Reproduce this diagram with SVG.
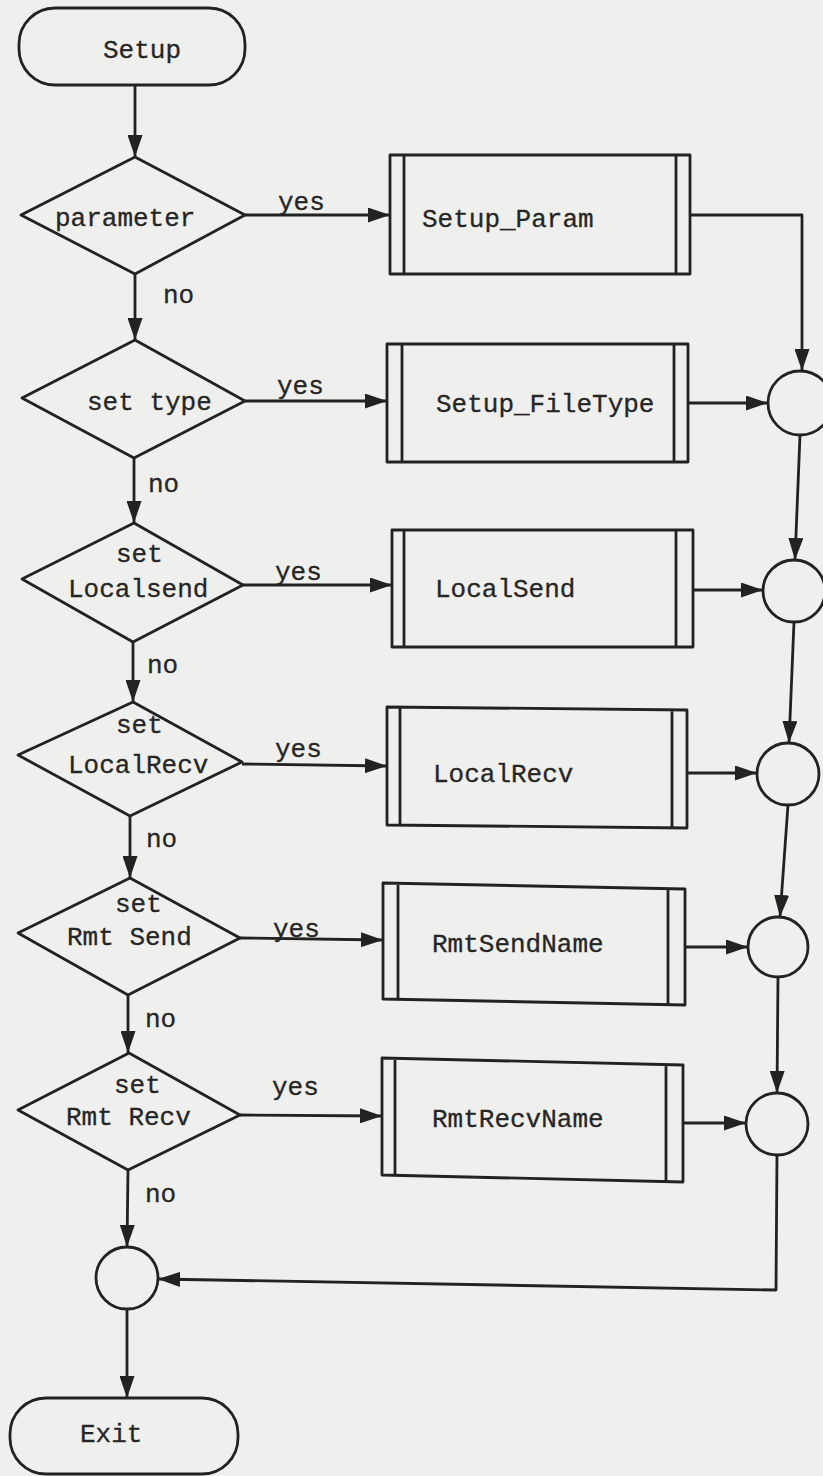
<svg xmlns="http://www.w3.org/2000/svg" width="823" height="1476" viewBox="0 0 823 1476">
<style>
.s{fill:none;stroke:#222;stroke-width:2.8;stroke-linejoin:round}
.t{font-family:"Liberation Mono","DejaVu Sans Mono",monospace;font-size:26px;fill:#262626;stroke:#262626;stroke-width:0.3}
.c{fill:none;stroke:#222;stroke-width:2.8}
</style>
<defs>
<marker id="ah" markerUnits="userSpaceOnUse" markerWidth="22" markerHeight="15" refX="22" refY="7.5" orient="auto">
<path d="M0,0 L22,7.5 L0,15 z" fill="#222"/>
</marker>
</defs>
<rect width="823" height="1476" fill="#efefed"/>

<g id="setup"><rect class="s" x="19" y="8" width="226" height="77" rx="36"/><text class="t" x="103" y="58">Setup</text></g>

<g id="d-parameter"><path class="s" d="M135,157 L245,215 L135,274 L21,215 Z"/><text class="t" x="55" y="226">parameter</text></g>
<g id="d-settype"><path class="s" d="M135,340 L245,401 L134,458 L22,398 Z"/><text class="t" x="87" y="410">set type</text></g>
<g id="d-localsend"><path class="s" d="M134,523 L243,585 L133,642 L22,579 Z"/><text class="t" x="116" y="562">set</text><text class="t" x="68" y="597">Localsend</text></g>
<g id="d-localrecv"><path class="s" d="M133,702 L242,762 L130,816 L18,755 Z"/><text class="t" x="116" y="733">set</text><text class="t" x="68" y="773">LocalRecv</text></g>
<g id="d-rmtsend"><path class="s" d="M130,878 L240,938 L128,995 L18,933 Z"/><text class="t" x="115" y="912">set</text><text class="t" x="67" y="945">Rmt Send</text></g>
<g id="d-rmtrecv"><path class="s" d="M129,1053 L240,1115 L128,1170 L18,1110 Z"/><text class="t" x="114" y="1093">set</text><text class="t" x="66" y="1125">Rmt Recv</text></g>

<g id="p-setupparam"><path class="s" d="M390,155 L690,155 L690,274 L390,274 Z M404,155 L404,274 M676,155 L676,274"/><text class="t" x="422" y="227">Setup_Param</text></g>
<g id="p-setupfiletype"><path class="s" d="M387,344 L688,344 L688,462 L387,462 Z M402,344 L402,462 M674,344 L674,462"/><text class="t" x="436" y="412">Setup_FileType</text></g>
<g id="p-localsend"><path class="s" d="M392,530 L693,530 L693,647 L392,647 Z M404,530 L404,647 M676,530 L676,647"/><text class="t" x="435" y="597">LocalSend</text></g>
<g id="p-localrecv"><path class="s" d="M387,707 L687,710 L687,828 L387,825 Z M400,707 L400,825 M672,710 L672,828"/><text class="t" x="433" y="782">LocalRecv</text></g>
<g id="p-rmtsendname"><path class="s" d="M383,883 L685,889 L685,1005 L383,999 Z M398,883 L398,999 M668,889 L668,1005"/><text class="t" x="432" y="952">RmtSendName</text></g>
<g id="p-rmtrecvname"><path class="s" d="M382,1058 L683,1065 L683,1182 L382,1175 Z M395,1058 L395,1175 M666,1065 L666,1182"/><text class="t" x="432" y="1127">RmtRecvName</text></g>

<g id="j1"><circle class="c" cx="800" cy="403" r="32"/></g>
<g id="j2"><circle class="c" cx="794" cy="591" r="31"/></g>
<g id="j3"><circle class="c" cx="788" cy="774" r="31"/></g>
<g id="j4"><circle class="c" cx="778" cy="947" r="30"/></g>
<g id="j5"><circle class="c" cx="777" cy="1124" r="31"/></g>
<g id="j6"><circle class="c" cx="127" cy="1278" r="31"/></g>

<g id="exit"><rect class="s" x="10" y="1398" width="228" height="76" rx="36"/><text class="t" x="80" y="1442">Exit</text></g>

<g id="connectors" class="s" marker-end="url(#ah)">
<path d="M135,85 L135,157"/>
<path d="M245,215 L390,215"/>
<path d="M135,274 L135,340"/>
<path d="M245,401 L387,401"/>
<path d="M134,458 L134,523"/>
<path d="M243,585 L392,585"/>
<path d="M133,642 L133,702"/>
<path d="M242,764 L387,766"/>
<path d="M130,816 L130,878"/>
<path d="M240,938 L383,940"/>
<path d="M128,995 L128,1053"/>
<path d="M240,1115 L382,1116"/>
<path d="M128,1170 L127,1247"/>
<path d="M127,1309 L127,1398"/>
<path d="M690,215 L802,215 L802,371"/>
<path d="M688,403 L768,403"/>
<path d="M800,435 L795,560"/>
<path d="M693,590 L763,590"/>
<path d="M794,622 L789,743"/>
<path d="M687,773 L757,773"/>
<path d="M788,805 L780,917"/>
<path d="M685,947 L748,947"/>
<path d="M778,977 L777,1093"/>
<path d="M683,1123 L746,1123"/>
<path d="M777,1155 L776,1290 L158,1279"/>
</g>

<g id="labels">
<text class="t" x="278" y="210">yes</text>
<text class="t" x="163" y="303">no</text>
<text class="t" x="277" y="394">yes</text>
<text class="t" x="148" y="492">no</text>
<text class="t" x="275" y="580">yes</text>
<text class="t" x="147" y="673">no</text>
<text class="t" x="275" y="757">yes</text>
<text class="t" x="146" y="847">no</text>
<text class="t" x="273" y="937">yes</text>
<text class="t" x="145" y="1027">no</text>
<text class="t" x="272" y="1095">yes</text>
<text class="t" x="145" y="1202">no</text>
</g>
</svg>
